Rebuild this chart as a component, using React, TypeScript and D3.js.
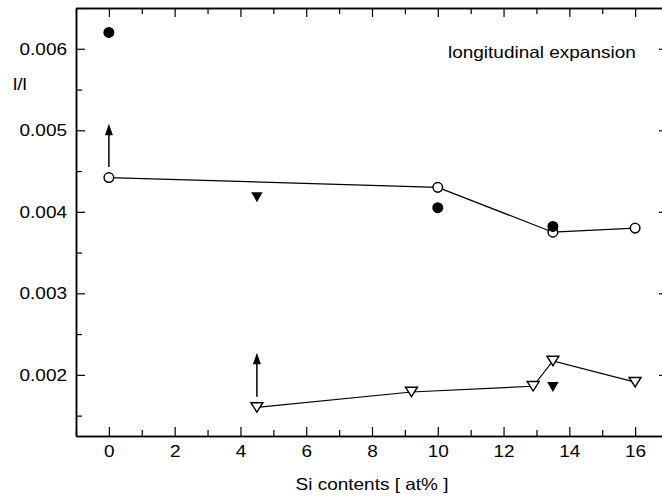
import React, { useRef, useEffect } from "react";
import * as d3 from "d3";

// open circles (connected)
const openCircleX = [0, 10, 13.5, 16];
const openCircleY = [0.00442, 0.0043, 0.00375, 0.0038];

// filled circles
const filledCircleX = [0, 10, 13.5];
const filledCircleY = [0.0062, 0.00405, 0.00382];

// open triangles (connected)
const openTriX = [4.5, 9.2, 12.9, 13.5, 16];
const openTriY = [0.0016, 0.00179, 0.00186, 0.00217, 0.00191];

// filled triangles
const filledTriX = [4.5, 13.5];
const filledTriY = [0.00418, 0.00185];

// arrows (x, start value, end value)
const arrowX = [0, 4.5];
const arrowFrom = [0.00455, 0.00173];
const arrowTo = [0.00508, 0.00227];

const xMajor = [0, 2, 4, 6, 8, 10, 12, 14, 16];
const xMinor = [-1, 1, 3, 5, 7, 9, 11, 13, 15, 17];
const yMajor = [0.002, 0.003, 0.004, 0.005, 0.006];
const yMinor = [0.0015, 0.0025, 0.0035, 0.0045, 0.0055, 0.0065];

const FONT = "'Liberation Sans', Arial, sans-serif";
const STRETCH = 1.15; // glyphs in the original are a bit wide

export default function App() {
  const svgRef = useRef<SVGSVGElement>(null);

  useEffect(() => {
    const svg = d3.select(svgRef.current);
    svg.selectAll("*").remove();

    const left = 76, right = 668, top = 8, bottom = 436;

    const x = d3.scaleLinear().domain([-1, 17]).range([left, right]);
    const y = d3.scaleLinear().domain([0.00125, 0.0065]).range([bottom, top]);

    // widen text a little, keeping the anchor
    const stretch = (sel: any, k = STRETCH) => {
      sel.each(function (this: SVGTextElement) {
        const w = this.getComputedTextLength();
        if (w > 0) {
          d3.select(this).attr("textLength", w * k).attr("lengthAdjust", "spacingAndGlyphs");
        }
      });
    };

    const styleAxis = (g: any) => {
      g.select(".domain").attr("stroke", "#000").attr("stroke-width", 1.5);
      g.selectAll(".tick line").attr("stroke", "#000").attr("stroke-width", 1.2);
      g.selectAll("text")
        .attr("font-family", FONT)
        .attr("font-size", 16.5)
        .attr("fill", "#000");
    };

    // bottom axis
    svg.append("g")
      .attr("transform", `translate(0,${bottom})`)
      .call(d3.axisBottom(x).tickValues(xMajor).tickSizeInner(-9).tickSizeOuter(0).tickPadding(9).tickFormat(d3.format("d")))
      .call(styleAxis)
      .call((g: any) => stretch(g.selectAll("text")));
    svg.append("g")
      .attr("transform", `translate(0,${bottom})`)
      .call(d3.axisBottom(x).tickValues(xMinor).tickSizeInner(-6).tickSizeOuter(0).tickFormat(() => ""))
      .call(styleAxis);

    // top axis
    svg.append("g")
      .attr("transform", `translate(0,${top})`)
      .call(d3.axisTop(x).tickValues(xMajor).tickSizeInner(-9).tickSizeOuter(0).tickFormat(() => ""))
      .call(styleAxis);
    svg.append("g")
      .attr("transform", `translate(0,${top})`)
      .call(d3.axisTop(x).tickValues(xMinor).tickSizeInner(-6).tickSizeOuter(0).tickFormat(() => ""))
      .call(styleAxis);

    // left axis
    svg.append("g")
      .attr("transform", `translate(${left},0)`)
      .call(d3.axisLeft(y).tickValues(yMajor).tickSizeInner(-9).tickSizeOuter(0).tickPadding(9).tickFormat(d3.format(".3f")))
      .call(styleAxis)
      .call((g: any) => stretch(g.selectAll("text")));
    svg.append("g")
      .attr("transform", `translate(${left},0)`)
      .call(d3.axisLeft(y).tickValues(yMinor).tickSizeInner(-6).tickSizeOuter(0).tickFormat(() => ""))
      .call(styleAxis);

    // right axis
    svg.append("g")
      .attr("transform", `translate(${right},0)`)
      .call(d3.axisRight(y).tickValues(yMajor).tickSizeInner(-9).tickSizeOuter(0).tickFormat(() => ""))
      .call(styleAxis);
    svg.append("g")
      .attr("transform", `translate(${right},0)`)
      .call(d3.axisRight(y).tickValues(yMinor).tickSizeInner(-6).tickSizeOuter(0).tickFormat(() => ""))
      .call(styleAxis);

    const line = d3.line<[number, number]>().x((d) => x(d[0])).y((d) => y(d[1]));

    // connecting lines
    svg.append("path")
      .attr("d", line(openCircleX.map((v, i) => [v, openCircleY[i]])))
      .attr("fill", "none").attr("stroke", "#000").attr("stroke-width", 1.2);
    svg.append("path")
      .attr("d", line(openTriX.map((v, i) => [v, openTriY[i]])))
      .attr("fill", "none").attr("stroke", "#000").attr("stroke-width", 1.2);

    // arrows
    arrowX.forEach((v, i) => {
      svg.append("line")
        .attr("x1", x(v)).attr("x2", x(v))
        .attr("y1", y(arrowFrom[i])).attr("y2", y(arrowTo[i]) + 10)
        .attr("stroke", "#000").attr("stroke-width", 1.5);
      svg.append("path")
        .attr("d", `M${x(v) - 4},${y(arrowTo[i]) + 11.5} L${x(v)},${y(arrowTo[i])} L${x(v) + 4},${y(arrowTo[i]) + 11.5} Z`)
        .attr("fill", "#000");
    });

    const downTri = (w: number, h: number) => `M${-w / 2},${-h / 2} L${w / 2},${-h / 2} L0,${h / 2} Z`;

    // open circles
    svg.append("g").selectAll("circle")
      .data(openCircleX)
      .join("circle")
      .attr("cx", (d) => x(d))
      .attr("cy", (d, i) => y(openCircleY[i]))
      .attr("r", 4.8)
      .attr("fill", "#fff").attr("stroke", "#000").attr("stroke-width", 1.5);

    // open triangles
    svg.append("g").selectAll("path")
      .data(openTriX)
      .join("path")
      .attr("transform", (d, i) => `translate(${x(d)},${y(openTriY[i])})`)
      .attr("d", downTri(12, 9.5))
      .attr("fill", "#fff").attr("stroke", "#000").attr("stroke-width", 1.4);

    // filled circles
    svg.append("g").selectAll("circle")
      .data(filledCircleX)
      .join("circle")
      .attr("cx", (d) => x(d))
      .attr("cy", (d, i) => y(filledCircleY[i]))
      .attr("r", 5.5)
      .attr("fill", "#000");

    // filled triangles
    svg.append("g").selectAll("path")
      .data(filledTriX)
      .join("path")
      .attr("transform", (d, i) => `translate(${x(d)},${y(filledTriY[i])})`)
      .attr("d", downTri(11.5, 10))
      .attr("fill", "#000");

    // texts
    svg.append("text")
      .attr("x", 448).attr("y", 58)
      .attr("font-family", FONT).attr("font-size", 16.5)
      .text("longitudinal expansion")
      .call(stretch);
    svg.append("text")
      .attr("x", 13).attr("y", 90)
      .attr("font-family", FONT).attr("font-size", 16.5)
      .text("l/l")
      .call(stretch);
    svg.append("text")
      .attr("x", (left + right) / 2).attr("y", 490)
      .attr("text-anchor", "middle")
      .attr("font-family", FONT).attr("font-size", 16.5)
      .text("Si contents [ at% ]")
      .call(stretch);
  }, []);

  return (
    <svg
      ref={svgRef}
      width={662}
      height={498}
      style={{ position: "absolute", left: 0, top: 0, background: "#fff" }}
    />
  );
}
